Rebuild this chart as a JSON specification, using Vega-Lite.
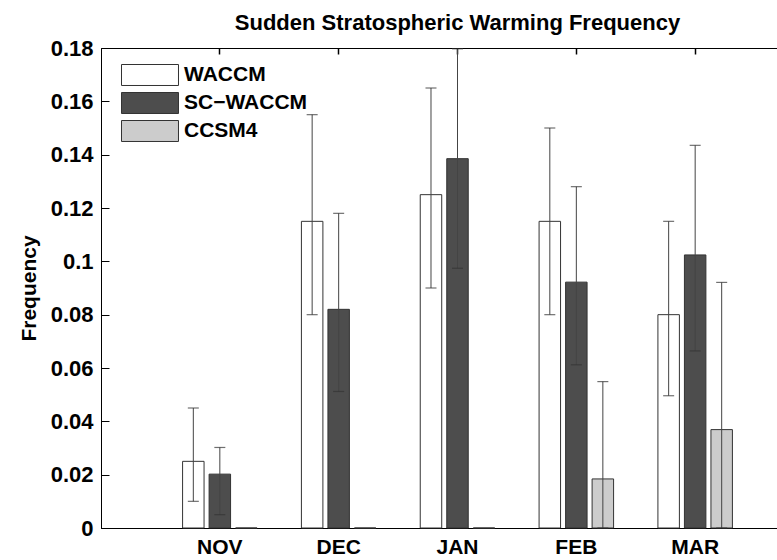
{
  "$schema": "https://vega.github.io/schema/vega-lite/v6.json",
  "autosize": "none",
  "width": 713,
  "height": 480,
  "padding": {"left": 101, "top": 48, "right": 0, "bottom": 32},
  "background": "white",
  "title": {
    "text": "Sudden Stratospheric Warming Frequency",
    "font": "Liberation Sans",
    "fontSize": 22,
    "fontWeight": "bold",
    "color": "black",
    "anchor": "middle",
    "offset": 2
  },
  "data": {
    "values": [
      {"month": "NOV", "model": "WACCM", "freq": 0.025, "lo": 0.01, "hi": 0.045},
      {"month": "NOV", "model": "SC−WACCM", "freq": 0.0202, "lo": 0.005, "hi": 0.0302},
      {"month": "NOV", "model": "CCSM4", "freq": 0, "lo": null, "hi": null},
      {"month": "DEC", "model": "WACCM", "freq": 0.115, "lo": 0.08, "hi": 0.155},
      {"month": "DEC", "model": "SC−WACCM", "freq": 0.082, "lo": 0.0512, "hi": 0.118},
      {"month": "DEC", "model": "CCSM4", "freq": 0, "lo": null, "hi": null},
      {"month": "JAN", "model": "WACCM", "freq": 0.125, "lo": 0.09, "hi": 0.165},
      {"month": "JAN", "model": "SC−WACCM", "freq": 0.1385, "lo": 0.0974, "hi": 0.1797},
      {"month": "JAN", "model": "CCSM4", "freq": 0, "lo": null, "hi": null},
      {"month": "FEB", "model": "WACCM", "freq": 0.115, "lo": 0.08, "hi": 0.15},
      {"month": "FEB", "model": "SC−WACCM", "freq": 0.0922, "lo": 0.0612, "hi": 0.128},
      {"month": "FEB", "model": "CCSM4", "freq": 0.0184, "lo": 0, "hi": 0.0549},
      {"month": "MAR", "model": "WACCM", "freq": 0.08, "lo": 0.0496, "hi": 0.115},
      {"month": "MAR", "model": "SC−WACCM", "freq": 0.1024, "lo": 0.0664, "hi": 0.1435},
      {"month": "MAR", "model": "CCSM4", "freq": 0.0369, "lo": 0, "hi": 0.0921}
    ]
  },
  "layer": [
    {
      "mark": {"type": "bar", "stroke": "#333333", "strokeWidth": 1, "opacity": 1},
      "encoding": {
        "x": {
          "field": "month", "type": "nominal",
          "sort": ["NOV", "DEC", "JAN", "FEB", "MAR"],
          "scale": {"paddingInner": 0, "paddingOuter": 0.5},
          "axis": {
            "orient": "bottom", "title": null, "labelAngle": 0,
            "ticks": false, "labelPadding": 8,
            "labelFont": "Liberation Sans", "labelFontSize": 21, "labelFontWeight": "bold",
            "labelColor": "black", "domainColor": "black"
          }
        },
        "xOffset": {
          "field": "model", "type": "nominal",
          "sort": ["WACCM", "SC−WACCM", "CCSM4"],
          "scale": {"paddingInner": 0.19, "paddingOuter": 0.836}
        },
        "y": {
          "field": "freq", "type": "quantitative",
          "scale": {"domain": [0, 0.18], "nice": false, "zero": true},
          "axis": {
            "title": "Frequency",
            "values": [0, 0.02, 0.04, 0.06, 0.08, 0.1, 0.12, 0.14, 0.16, 0.18],
            "format": "~g",
            "tickSize": -8, "tickColor": "black", "tickWidth": 1, "labelPadding": 16,
            "labelFont": "Liberation Sans", "labelFontSize": 22, "labelFontWeight": "bold",
            "labelColor": "black", "domainColor": "black",
            "titleFont": "Liberation Sans", "titleFontSize": 21, "titleFontWeight": "bold",
            "titleColor": "black", "titlePadding": 11, "grid": false
          }
        },
        "fill": {
          "field": "model", "type": "nominal",
          "sort": ["WACCM", "SC−WACCM", "CCSM4"],
          "scale": {"domain": ["WACCM", "SC−WACCM", "CCSM4"], "range": ["#ffffff", "#4d4d4d", "#cccccc"]},
          "legend": {
            "title": null, "orient": "none", "legendX": 34, "legendY": 12, "padding": 0,
            "symbolType": "M-2,-0.736H2V0.736H-2Z", "symbolSize": 812,
            "symbolStrokeColor": "#333333", "symbolStrokeWidth": 1, "symbolOpacity": 1,
            "labelFont": "Liberation Sans", "labelFontSize": 21, "labelFontWeight": "bold",
            "labelColor": "black", "labelOffset": 19, "rowPadding": 0
          }
        }
      }
    },
    {
      "mark": {"type": "rule", "color": "#444444", "strokeWidth": 1},
      "encoding": {
        "x": {
          "field": "month", "type": "nominal",
          "sort": ["NOV", "DEC", "JAN", "FEB", "MAR"],
          "axis": {
            "orient": "top", "title": null, "labels": false, "domain": false,
            "tickSize": -6, "tickColor": "black", "tickWidth": 1.5
          }
        },
        "xOffset": {"field": "model", "type": "nominal", "sort": ["WACCM", "SC−WACCM", "CCSM4"]},
        "y": {"field": "lo", "type": "quantitative"},
        "y2": {"field": "hi"}
      }
    },
    {
      "mark": {"type": "tick", "color": "#333333", "size": 11, "thickness": 1.2},
      "encoding": {
        "x": {"field": "month", "type": "nominal", "sort": ["NOV", "DEC", "JAN", "FEB", "MAR"], "axis": null},
        "xOffset": {"field": "model", "type": "nominal", "sort": ["WACCM", "SC−WACCM", "CCSM4"]},
        "y": {"field": "hi", "type": "quantitative"}
      }
    },
    {
      "mark": {"type": "tick", "color": "#333333", "size": 11, "thickness": 1.2},
      "encoding": {
        "x": {"field": "month", "type": "nominal", "sort": ["NOV", "DEC", "JAN", "FEB", "MAR"], "axis": null},
        "xOffset": {"field": "model", "type": "nominal", "sort": ["WACCM", "SC−WACCM", "CCSM4"]},
        "y": {"field": "lo", "type": "quantitative"}
      }
    }
  ],
  "resolve": {"axis": {"x": "independent"}},
  "config": {
    "view": {"stroke": "black", "strokeWidth": 1},
    "axis": {"grid": false}
  }
}
